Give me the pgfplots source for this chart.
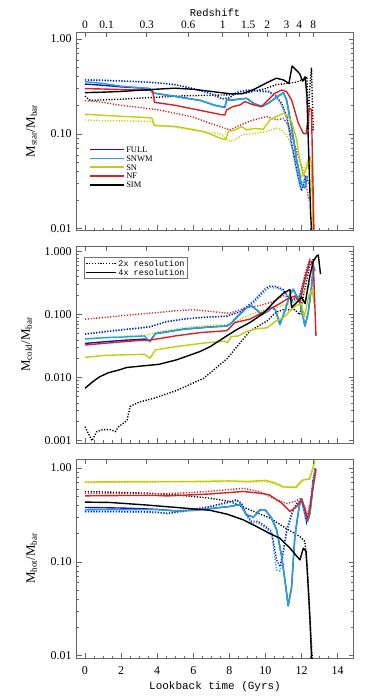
\documentclass[border=0pt]{standalone}
\usepackage{fontspec}
\setmainfont{Liberation Serif}
\setmonofont{Liberation Mono}
\usepackage{pgfplots}
\pgfplotsset{compat=1.18}

\definecolor{cfull}{RGB}{20,20,210}
\definecolor{csnwm}{RGB}{35,165,215}
\definecolor{csn}{RGB}{195,205,10}
\definecolor{cnf}{RGB}{215,35,35}
\definecolor{csim}{RGB}{0,0,0}

\tikzset{
  sol/.style={line width=1.4bp, line join=round},
  dot/.style={line width=1.4bp, dash pattern=on 1.2bp off 1.6bp},
}

\pgfplotsset{
  mypanel/.style={
    scale only axis, width=277bp,
    xmin=-0.47, xmax=14.88,
    xtick={0,2,...,14}, minor x tick num=3, xtick pos=bottom,
    axis line style={black!60, line width=0.5bp},
    every tick/.style={black!60, line width=0.5bp},
    major tick length=5bp, minor tick length=2.5bp,
    tick label style={font=\fontsize{12}{13}\selectfont},
    yticklabel style={xshift=-1.5bp},
    label style={font=\fontsize{13}{14}\selectfont},
    ylabel style={anchor=center},
  },
  myzaxis/.style={
    scale only axis, width=277bp,
    xmin=-0.47, xmax=14.88, ymin=0, ymax=1,
    axis x line*=top, axis y line=none,
    axis line style={draw=none},
    every tick/.style={black!60, line width=0.5bp},
    major tick length=5bp,
    xtick={0,1.2,3.42,5.72,7.63,9.05,10.1,11.17,11.87,12.65},
    tick label style={font=\fontsize{11.5}{13}\selectfont},
  },
}

\begin{document}
\begin{tikzpicture}
\path[use as bounding box] (0,0) rectangle (374bp,697bp);

% ---------------- panel 1: stars ----------------
\begin{axis}[mypanel, ymode=log, at={(76.5bp,467bp)}, anchor=south west, height=198bp,
  ymin=0.0097, ymax=1.185,
  ytick={0.01,0.1,1}, yticklabels={0.01,0.10,1.00}, xticklabels={},
  ylabel={M\textsubscript{star}/M\textsubscript{bar}},
  ylabel style={at={(axis description cs:-0.162,0.5)}},
  legend cell align=left,
  legend image code/.code={\draw[#1, line width=1.7bp] (0bp,0bp) -- (34bp,0bp);},
  legend style={draw=none, fill=none, at={(axis description cs:0.035,0.44)}, anchor=north west,
    font=\fontsize{8.5}{9}\selectfont, row sep=0pt,
    nodes={inner sep=1.2bp, text height=6bp, text depth=0.5bp}},
]
\addlegendimage{sol, cfull}\addlegendentry{FULL}
\addlegendimage{sol, csnwm}\addlegendentry{SNWM}
\addlegendimage{sol, csn}\addlegendentry{SN}
\addlegendimage{sol, cnf}\addlegendentry{NF}
\addlegendimage{sol, csim}\addlegendentry{SIM}

\addplot[dot, csim, forget plot] coordinates {(0,0.25) (0.3,0.225) (1,0.228) (2,0.232) (3,0.238) (4,0.243) (5,0.25) (6,0.253) (7,0.255) (8,0.258) (9,0.27) (10,0.3) (10.6,0.33) (11.2,0.34) (11.7,0.35) (12.0,0.37) (12.2,0.36) (12.3,0.4) (12.38,0.11) (12.45,0.3) (12.55,0.5) (12.65,0.105)};
\addplot[dot, cnf, forget plot] coordinates {(0,0.224) (1,0.215) (2,0.2) (3,0.19) (4,0.18) (5,0.165) (6,0.15) (7,0.128) (7.5,0.119) (8.03,0.11) (8.6,0.124) (9.33,0.14) (10.07,0.152) (10.6,0.14) (11.0,0.145) (11.26,0.124) (11.54,0.086) (11.9,0.053) (12.2,0.035) (12.4,0.02)};
\addplot[dot, csn, forget plot] coordinates {(0,0.14) (1,0.138) (2,0.137) (3,0.136) (3.7,0.135) (3.85,0.124) (5,0.118) (6.5,0.105) (7.48,0.1) (8.03,0.083) (8.2,0.085) (8.77,0.098) (9.33,0.101) (10.07,0.106) (10.6,0.115) (10.8,0.112) (11.17,0.098) (11.45,0.074) (11.73,0.05) (12.0,0.036) (12.2,0.045) (12.47,0.058) (12.6,0.03) (12.65,0.009)};
\addplot[dot, csnwm, forget plot] coordinates {(0,0.375) (1,0.37) (2,0.362) (3,0.355) (4,0.345) (5,0.33) (6,0.30) (7,0.262) (7.6,0.232) (8.0,0.24) (8.4,0.27) (9.0,0.285) (10.2,0.275) (10.6,0.24) (10.9,0.2) (11.2,0.14) (11.45,0.075) (11.73,0.04) (11.95,0.026) (12.2,0.035)};
\addplot[dot, cfull, forget plot] coordinates {(0,0.37) (1,0.365) (2,0.36) (3,0.355) (4,0.345) (5,0.33) (6,0.30) (7,0.265) (7.6,0.235) (8.0,0.24) (8.4,0.275) (9.0,0.29) (10.2,0.28) (10.6,0.25) (10.9,0.21) (11.2,0.15) (11.45,0.08) (11.73,0.042) (12.0,0.025) (12.25,0.036) (12.4,0.03)};

\addplot[sol, cfull, forget plot] coordinates {(0,0.335) (1,0.325) (2,0.313) (3,0.305) (3.6,0.30) (3.75,0.27) (5,0.248) (6.4,0.225) (7.2,0.2) (7.75,0.19) (7.85,0.228) (8.2,0.228) (8.96,0.237) (9.33,0.21) (9.79,0.194) (10.16,0.21) (10.53,0.237) (11.0,0.272) (11.17,0.228) (11.45,0.119) (11.73,0.053) (12.0,0.029) (12.19,0.027) (12.3,0.036)};
\addplot[sol, csnwm, forget plot] coordinates {(0,0.355) (1,0.34) (2,0.318) (3,0.307) (3.6,0.30) (3.75,0.27) (5,0.248) (6.4,0.225) (7.2,0.2) (7.75,0.19) (7.85,0.228) (8.2,0.228) (8.96,0.237) (9.33,0.21) (9.79,0.194) (10.16,0.21) (10.53,0.237) (11.0,0.272) (11.17,0.228) (11.45,0.119) (11.73,0.053) (12.0,0.029) (12.19,0.027) (12.3,0.036)};
\addplot[sol, csn, forget plot] coordinates {(0,0.161) (1,0.157) (2,0.153) (3,0.15) (3.7,0.147) (3.85,0.122) (5,0.12) (6.58,0.106) (7.5,0.09) (7.8,0.087) (7.94,0.106) (8.3,0.11) (8.68,0.119) (8.96,0.11) (9.4,0.114) (9.88,0.112) (10.25,0.14) (10.6,0.152) (11.0,0.165) (11.17,0.16) (11.45,0.135) (11.73,0.087) (11.9,0.053) (12.1,0.036) (12.3,0.045) (12.43,0.058) (12.55,0.05) (12.65,0.009)};
\addplot[sol, cnf, forget plot] coordinates {(0,0.30) (1,0.297) (2,0.293) (3,0.29) (3.75,0.286) (3.85,0.215) (5,0.2) (6.5,0.175) (7.5,0.16) (7.75,0.158) (7.85,0.179) (8.2,0.194) (8.6,0.202) (8.86,0.219) (9.33,0.202) (9.79,0.194) (10.16,0.228) (10.53,0.268) (10.9,0.29) (11.17,0.279) (11.45,0.228) (11.82,0.13) (12.1,0.101) (12.25,0.1) (12.43,0.187) (12.55,0.18) (12.69,0.009)};
\addplot[sol, csim, forget plot] coordinates {(0,0.272) (1,0.275) (2,0.28) (3,0.288) (4,0.296) (5,0.303) (6,0.295) (7,0.28) (8,0.265) (8.7,0.265) (9.3,0.29) (10,0.34) (10.6,0.386) (11.0,0.37) (11.3,0.34) (11.48,0.52) (11.9,0.43) (12.06,0.36) (12.2,0.40) (12.3,0.25) (12.4,0.06) (12.5,0.015) (12.56,0.009)};
\end{axis}
\begin{axis}[myzaxis, at={(76.5bp,467bp)}, anchor=south west, height=198bp,
  xticklabels={0,0.1,0.3,0.6,1,1.5,2,3,4,8},
  xlabel={Redshift},
  xlabel style={at={(axis description cs:0.5,1.0995)}, anchor=center, font=\ttfamily\fontsize{10.5}{12}\selectfont},
]
\end{axis}

% ---------------- panel 2: cold gas ----------------
\begin{axis}[mypanel, ymode=log, at={(76.5bp,254bp)}, anchor=south west, height=197bp,
  ymin=0.00092, ymax=1.23,
  ytick={0.001,0.01,0.1,1}, yticklabels={0.001,0.010,0.100,1.000}, xticklabels={},
  ylabel={M\textsubscript{cold}/M\textsubscript{bar}},
  ylabel style={at={(axis description cs:-0.18,0.5)}},
  legend cell align=left,
  legend image code/.code={\draw[#1] (0bp,0bp) -- (30bp,0bp);},
  legend style={draw=black!55, line width=0.5bp, fill=white, at={(axis description cs:0.027,0.944)}, anchor=north west,
    font=\ttfamily\fontsize{8.5}{9}\selectfont, row sep=0pt, inner sep=1.5bp,
    nodes={inner sep=1.3bp, text height=6bp, text depth=0.5bp}},
]
\addlegendimage{dot, black, line width=1.1bp}\addlegendentry{2x resolution}
\addlegendimage{sol, black}\addlegendentry{4x resolution}

\addplot[dot, csim, forget plot] coordinates {(0,0.00167) (0.39,0.001) (0.66,0.0014) (1.0,0.0015) (1.4,0.0015) (1.68,0.0014) (1.87,0.00167) (2.33,0.0021) (2.5,0.0035) (3.0,0.0041) (3.8,0.0047) (5.1,0.0063) (6.58,0.0098) (7.87,0.02) (8.2,0.026) (9.14,0.055) (10.1,0.08) (10.6,0.11) (11.0,0.12) (11.63,0.12) (11.9,0.1) (12.1,0.2) (12.46,0.6) (12.7,0.8)};
\addplot[dot, cnf, forget plot] coordinates {(0,0.085) (1,0.09) (2,0.096) (3,0.102) (4,0.108) (5,0.115) (6,0.12) (6.9,0.113) (8.0,0.105) (8.8,0.125) (9.7,0.14) (10.4,0.16) (11.0,0.2) (11.4,0.18) (11.9,0.19) (12.2,0.45) (12.45,0.75) (12.6,0.7) (12.7,0.3)};
\addplot[dot, csn, forget plot] coordinates {(0,0.042) (2,0.045) (3.5,0.048) (4,0.053) (5.5,0.062) (7,0.068) (7.85,0.069) (8.8,0.09) (9.7,0.115) (10.6,0.13) (11.3,0.15) (11.9,0.17) (12.2,0.25) (12.5,0.32) (12.65,0.25)};
\addplot[dot, csnwm, forget plot] coordinates {(0,0.05) (1,0.054) (2,0.058) (3,0.062) (3.6,0.065) (4.5,0.078) (5.5,0.086) (6.4,0.09) (7.85,0.094) (8.6,0.11) (9.3,0.15) (10.0,0.24) (10.25,0.27) (10.6,0.265) (11.0,0.24) (11.2,0.19) (11.5,0.16) (11.9,0.19) (12.2,0.38) (12.45,0.68) (12.6,0.6)};
\addplot[dot, cfull, forget plot] coordinates {(0,0.049) (1,0.053) (2,0.057) (3,0.061) (3.6,0.064) (4.5,0.077) (5.5,0.085) (6.4,0.09) (7.85,0.095) (8.6,0.112) (9.3,0.16) (10.0,0.26) (10.25,0.285) (10.6,0.28) (11.0,0.25) (11.2,0.2) (11.5,0.17) (11.9,0.2) (12.2,0.4) (12.45,0.7) (12.6,0.65)};

\addplot[sol, cfull, forget plot] coordinates {(0,0.035) (1,0.037) (2,0.039) (3.3,0.041) (3.6,0.038) (3.9,0.05) (5.5,0.059) (7.0,0.064) (7.85,0.066) (8.03,0.07) (8.4,0.09) (8.96,0.129) (9.23,0.138) (9.5,0.12) (9.79,0.10) (10.16,0.114) (10.34,0.129) (10.55,0.12) (10.8,0.07) (11.1,0.12) (11.36,0.211) (11.54,0.253) (11.9,0.16) (12.19,0.066) (12.37,0.108) (12.56,0.285) (12.65,0.59) (12.75,0.5)};
\addplot[sol, csnwm, forget plot] coordinates {(0,0.041) (1,0.043) (2,0.044) (3.3,0.046) (3.6,0.037) (3.9,0.05) (5.5,0.059) (7.0,0.064) (7.85,0.066) (8.03,0.07) (8.4,0.09) (8.96,0.129) (9.23,0.138) (9.5,0.12) (9.79,0.10) (10.16,0.114) (10.34,0.129) (10.55,0.12) (10.8,0.07) (11.1,0.12) (11.36,0.211) (11.54,0.253) (11.9,0.16) (12.19,0.066) (12.37,0.108) (12.56,0.285) (12.65,0.59) (12.75,0.5)};
\addplot[sol, csn, forget plot] coordinates {(0,0.021) (1,0.0225) (2,0.023) (3.3,0.0235) (3.6,0.0203) (3.9,0.0276) (5,0.031) (6.4,0.035) (7.7,0.038) (7.9,0.036) (8.1,0.045) (8.5,0.046) (9.0,0.055) (9.6,0.06) (10.1,0.062) (10.6,0.08) (11.0,0.09) (11.3,0.11) (11.7,0.14) (12.0,0.15) (12.15,0.09) (12.4,0.2) (12.6,0.25) (12.7,0.15)};
\addplot[sol, cnf, forget plot] coordinates {(0,0.033) (1,0.035) (2,0.037) (3,0.039) (3.6,0.0395) (5,0.046) (6.4,0.052) (7.85,0.0557) (8.03,0.062) (8.3,0.075) (9.14,0.085) (9.88,0.11) (10.62,0.14) (11.17,0.175) (11.63,0.198) (11.9,0.155) (12.19,0.365) (12.46,0.71) (12.65,0.65) (12.8,0.046)};
\addplot[sol, csim, forget plot] coordinates {(0,0.0068) (0.4,0.0085) (0.8,0.0103) (1.3,0.012) (1.9,0.0133) (2.3,0.0145) (2.6,0.0148) (3.3,0.0155) (4.1,0.0163) (5.1,0.0193) (6.37,0.026) (6.93,0.031) (7.85,0.046) (8.5,0.06) (9.14,0.075) (9.88,0.105) (10.62,0.175) (11.0,0.22) (11.36,0.25) (11.45,0.13) (11.82,0.165) (12.0,0.19) (12.2,0.15) (12.46,0.41) (12.65,0.7) (12.84,0.855) (12.93,0.886) (13.05,0.44)};
\end{axis}
\begin{axis}[myzaxis, at={(76.5bp,254bp)}, anchor=south west, height=197bp, xticklabels={}]
\end{axis}

% ---------------- panel 3: hot gas ----------------
\begin{axis}[mypanel, ymode=log, at={(76.5bp,39bp)}, anchor=south west, height=199bp,
  ymin=0.00945, ymax=1.25,
  ytick={0.01,0.1,1}, yticklabels={0.01,0.10,1.00},
  xticklabels={0,2,4,6,8,10,12,14},
  xticklabel style={yshift=-5bp},
  ylabel={M\textsubscript{hot}/M\textsubscript{bar}},
  ylabel style={at={(axis description cs:-0.162,0.5)}},
  xlabel={Lookback time (Gyrs)},
  xlabel style={at={(axis description cs:0.5,-0.144)}, anchor=center, font=\ttfamily\fontsize{11}{12}\selectfont},
]
\addplot[dot, csim, forget plot] coordinates {(0,0.563) (2,0.55) (3.5,0.54) (5,0.52) (6.93,0.478) (8.03,0.44) (9.14,0.359) (10.25,0.293) (10.99,0.238) (11.91,0.186) (12.19,0.165) (12.33,0.08) (12.47,0.024) (12.6,0.009)};
\addplot[dot, cnf, forget plot] coordinates {(0,0.54) (2,0.535) (4,0.53) (6,0.55) (7.87,0.587) (8.77,0.61) (9.7,0.56) (10.62,0.46) (11.17,0.42) (11.63,0.44) (12.0,0.48) (12.28,0.3) (12.45,0.4) (12.65,0.64) (12.8,0.95)};
\addplot[dot, csn, forget plot] coordinates {(0,0.70) (2,0.705) (4,0.71) (6,0.71) (8,0.72) (9,0.71) (10,0.72) (10.5,0.68) (11,0.63) (11.7,0.64) (12,0.74) (12.45,0.78) (12.7,1.1)};
\addplot[dot, csnwm, forget plot] coordinates {(0,0.34) (2,0.34) (4,0.335) (4.55,0.325) (5.5,0.345) (6.93,0.385) (8.03,0.43) (8.4,0.45) (8.68,0.41) (8.9,0.32) (9.23,0.26) (9.6,0.26) (10.0,0.23) (10.34,0.2) (10.62,0.082) (10.8,0.08) (10.99,0.12) (11.17,0.2) (11.5,0.33) (11.73,0.41) (12.0,0.45) (12.28,0.26) (12.45,0.34) (12.65,0.75)};
\addplot[dot, cfull, forget plot] coordinates {(0,0.345) (2,0.345) (4,0.34) (4.55,0.33) (5.5,0.35) (6.93,0.39) (8.03,0.44) (8.4,0.46) (8.68,0.42) (8.9,0.33) (9.23,0.27) (9.6,0.27) (10.0,0.24) (10.34,0.21) (10.62,0.105) (10.8,0.089) (10.99,0.13) (11.17,0.22) (11.5,0.35) (11.73,0.42) (12.0,0.46) (12.28,0.27) (12.45,0.35) (12.65,0.8)};

\addplot[sol, cfull, forget plot] coordinates {(0,0.38) (1,0.378) (2,0.375) (3,0.37) (4,0.363) (5,0.35) (6,0.355) (6.93,0.37) (8.03,0.39) (8.6,0.41) (8.96,0.318) (9.33,0.30) (9.7,0.359) (9.98,0.36) (10.34,0.293) (10.62,0.22) (10.9,0.114) (11.13,0.054) (11.26,0.034) (11.45,0.054) (11.63,0.186) (11.87,0.39) (12.0,0.47) (12.2,0.36) (12.33,0.27) (12.47,0.33) (12.65,0.7) (12.75,1.0)};
\addplot[sol, csnwm, forget plot] coordinates {(0,0.359) (2,0.36) (4,0.36) (5,0.35) (6,0.355) (6.93,0.37) (8.03,0.39) (8.6,0.41) (8.96,0.318) (9.33,0.30) (9.7,0.359) (9.98,0.36) (10.34,0.293) (10.62,0.22) (10.9,0.114) (11.13,0.054) (11.26,0.034) (11.45,0.054) (11.63,0.186) (11.87,0.39) (12.0,0.47) (12.2,0.36) (12.33,0.27) (12.47,0.33) (12.65,0.7) (12.75,1.0)};
\addplot[sol, csn, forget plot] coordinates {(0,0.71) (2,0.715) (4,0.72) (6,0.72) (8,0.73) (9,0.72) (10,0.74) (10.5,0.7) (11.0,0.63) (11.7,0.62) (12.0,0.72) (12.1,0.75) (12.45,0.76) (12.65,1.04) (12.75,1.2)};
\addplot[sol, cnf, forget plot] coordinates {(0,0.506) (2,0.51) (4,0.51) (4.55,0.505) (6.93,0.53) (8.77,0.563) (9.7,0.54) (10.2,0.52) (10.9,0.423) (11.36,0.345) (11.73,0.39) (12.0,0.46) (12.2,0.36) (12.33,0.28) (12.45,0.36) (12.65,0.64) (12.8,0.98)};
\addplot[sol, csim, forget plot] coordinates {(0,0.434) (1.4,0.43) (3.25,0.406) (5.1,0.38) (6.93,0.355) (7.87,0.323) (8.77,0.281) (9.51,0.238) (10.25,0.20) (10.8,0.179) (11.36,0.14) (11.91,0.105) (12.1,0.14) (12.25,0.13) (12.37,0.054) (12.47,0.024) (12.56,0.009)};
\end{axis}
\begin{axis}[myzaxis, at={(76.5bp,39bp)}, anchor=south west, height=199bp, xticklabels={}]
\end{axis}

\end{tikzpicture}
\end{document}
